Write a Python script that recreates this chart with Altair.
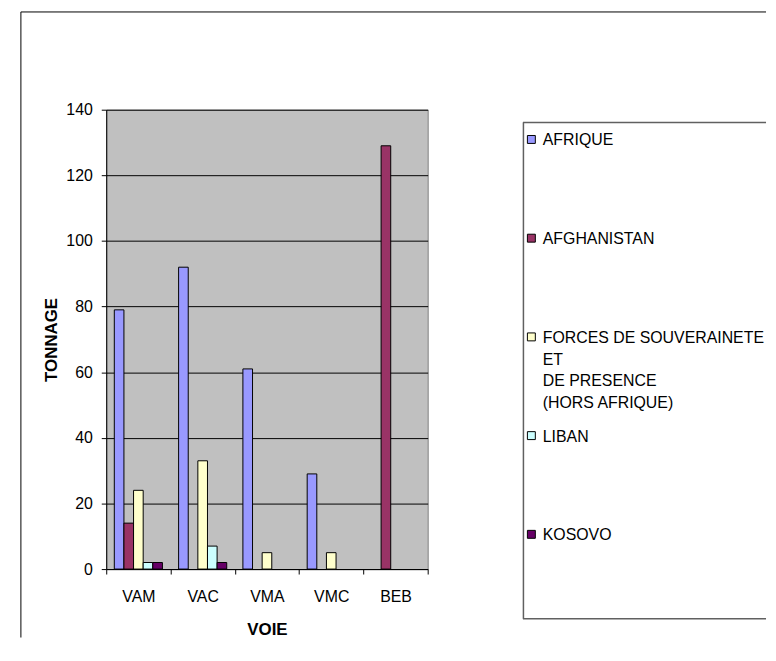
import altair as alt
import pandas as pd

categories = ["VAM", "VAC", "VMA", "VMC", "BEB"]
series = [
    "AFRIQUE",
    "AFGHANISTAN",
    "FORCES DE SOUVERAINETE\nET\nDE PRESENCE\n(HORS AFRIQUE)",
    "LIBAN",
    "KOSOVO",
]
afrique = [79, 92, 61, 29, 0]
afghanistan = [14, 0, 0, 0, 129]
forces = [24, 33, 5, 5, 0]
liban = [2, 7, 0, 0, 0]
kosovo = [2, 2, 0, 0, 0]
colors = ["#9999FF", "#993366", "#FFFFCC", "#CCFFFF", "#660066"]
y_ticks = [0, 20, 40, 60, 80, 100, 120, 140]

values_by_series = [afrique, afghanistan, forces, liban, kosovo]
rows = []
for s, vals in zip(series, values_by_series):
    for c, v in zip(categories, vals):
        rows.append({"voie": c, "serie": s, "value": v})
df = pd.DataFrame(rows)

FONT = "Liberation Sans"
color_scale = alt.Scale(domain=series, range=colors)

bars = (
    alt.Chart(df)
    .transform_filter("datum.value > 0")
    .mark_bar(stroke="black", strokeWidth=1, opacity=1)
    .encode(
        x=alt.X(
            "voie:N",
            sort=categories,
            scale=alt.Scale(paddingInner=0, paddingOuter=0),
            axis=alt.Axis(
                title="VOIE",
                labelAngle=0,
                tickBand="extent",
                tickSize=5,
                tickColor="black",
                domainColor="black",
                labelFont=FONT,
                labelFontSize=16,
                labelColor="black",
                labelPadding=15,
                titleFont=FONT,
                titleFontSize=17,
                titleFontWeight="bold",
                titleColor="black",
                titlePadding=17,
                grid=False,
            ),
        ),
        xOffset=alt.XOffset(
            "serie:N",
            sort=series,
            scale=alt.Scale(domain=series, paddingInner=0, paddingOuter=0.84),
        ),
        y=alt.Y(
            "value:Q",
            scale=alt.Scale(domain=[0, 140], nice=False),
            axis=alt.Axis(
                title="TONNAGE",
                values=y_ticks,
                tickSize=5,
                tickColor="black",
                domainColor="black",
                gridColor="black",
                gridWidth=1,
                labelFont=FONT,
                labelFontSize=16,
                labelColor="black",
                labelPadding=9,
                titleFont=FONT,
                titleFontSize=17,
                titleFontWeight="bold",
                titleColor="black",
                titlePadding=5,
            ),
        ),
        color=alt.Color("serie:N", scale=color_scale, legend=None),
    )
)

one = pd.DataFrame({"d": [0]})
border_left = alt.Chart(one).mark_rule(color="black", strokeWidth=1).encode(
    x=alt.value(-86), y=alt.value(-98.5), y2=alt.value(532)
)
border_top = alt.Chart(one).mark_rule(color="black", strokeWidth=1).encode(
    x=alt.value(-86), x2=alt.value(665), y=alt.value(-98.5)
)

main = alt.layer(border_left, border_top, bars).properties(
    width=324,
    height=463,
    view=alt.ViewBackground(fill="#C0C0C0", stroke="#808080"),
)

leg_df = pd.DataFrame({"serie": series})
leg_y = alt.Y(
    "serie:N",
    sort=series,
    scale=alt.Scale(type="point", domain=series, range=[30, 428], padding=0),
    axis=None,
)
leg_squares = alt.Chart(leg_df).mark_square(
    size=64, stroke="black", strokeWidth=1, opacity=1
).encode(
    x=alt.value(8.5),
    y=leg_y,
    color=alt.Color("serie:N", scale=color_scale, legend=None),
)
leg_text = alt.Chart(leg_df).mark_text(
    align="left",
    baseline="top",
    dy=-7,
    font=FONT,
    fontSize=16,
    lineBreak="\n",
    lineHeight=22,
    color="black",
).encode(x=alt.value(20), y=leg_y, text="serie:N")

LEG_C = "#606060"
leg_top = alt.Chart(one).mark_rule(color=LEG_C, strokeWidth=1.5).encode(
    x=alt.value(0), x2=alt.value(245), y=alt.value(13)
)
leg_left = alt.Chart(one).mark_rule(color=LEG_C, strokeWidth=1.5).encode(
    x=alt.value(0.5), y=alt.value(13), y2=alt.value(513)
)
leg_bottom = alt.Chart(one).mark_rule(color=LEG_C, strokeWidth=1.5).encode(
    x=alt.value(0), x2=alt.value(245), y=alt.value(513)
)

legend = alt.layer(leg_top, leg_left, leg_bottom, leg_squares, leg_text).properties(
    width=230,
    height=513,
    view=alt.ViewBackground(fill="white", stroke="transparent"),
)

chart = (
    alt.hconcat(main, legend, spacing=96, bounds="flush")
    .properties(
        padding={"left": 12, "top": 0, "right": 0, "bottom": 0},
        background="white",
    )
)

chart.save("out.html", embed_options={"renderer": "svg", "actions": False})
